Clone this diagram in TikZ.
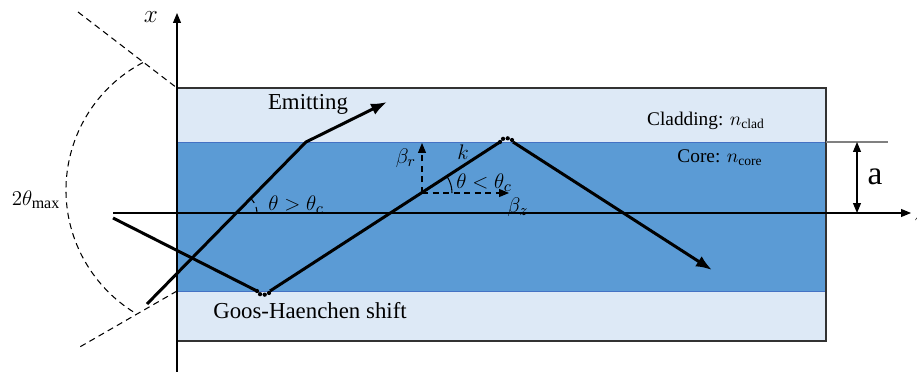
\documentclass[tikz,border=0pt]{standalone}
\usepackage{fontspec}
\setmainfont{Liberation Serif}
\usetikzlibrary{arrows.meta,calc,positioning}
\definecolor{CoreBlue}{RGB}{91,155,213}
\definecolor{CladBlue}{RGB}{221,233,246}
\definecolor{CoreEdge}{RGB}{68,114,196}
\definecolor{EdgeGray}{RGB}{50,50,50}
\tikzset{
  ray/.style={line width=1.7pt},
  raytip/.style={-{Latex[length=3.2mm,width=2.4mm]}},
  axis/.style={line width=0.6pt,-{Triangle[length=2mm,width=1.6mm]}},
  guide/.style={dashed,dash pattern=on 3.5pt off 2.5pt,line width=0.6pt},
  lbl/.style={font=\fontsize{13}{15}\selectfont,inner sep=1pt}
}
\newcommand{\ghshift}[3]{%
  \draw[line width=2.4pt,line cap=round,dash pattern=on 0pt off 2.7pt] (#1) to[bend #3=90] (#2);}

\begin{document}
\begin{tikzpicture}[x=0.02cm,y=-0.02cm]
  \useasboundingbox (0,0) rectangle (917,372);
  % fibre: cladding and core
  \fill[CladBlue] (177,88) rectangle (826,341);
  \fill[CoreBlue,draw=CoreEdge,line width=0.5pt] (177,142) rectangle (826,291);
  \draw[EdgeGray,line width=1.2pt] (177,88) rectangle (826,341);
  \draw[gray,line width=0.6pt] (826,142)--(888,142);
  % axes
  \coordinate (xbot) at (177,372); \coordinate (xtop) at (177,13);
  \coordinate (zleft) at (113,213); \coordinate (zright) at (911,213);
  \draw[axis] (xbot)--(xtop);
  \draw[axis] (zleft)--(zright);
  \node[lbl,font=\fontsize{15}{17}\selectfont] (xlab) at (151,17) {$x$};
  \node[lbl,anchor=west,font=\fontsize{15}{17}\selectfont] (zlab) at (912,215) {$z$};
  % core radius a
  \coordinate (atop) at (857,142); \coordinate (abot) at (857,213);
  \draw[line width=0.6pt,{Triangle[length=2mm,width=1.6mm]}-{Triangle[length=2mm,width=1.6mm]}] (atop)--(abot);
  \node[lbl,font=\fontsize{19}{21}\selectfont] (alab) at (875,177) {a};
  % acceptance cone
  \coordinate (cone1) at (78,12); \coordinate (cone2) at (177,88);
  \coordinate (cone3) at (177,291); \coordinate (cone4) at (78,348);
  \coordinate (conec) at (210,190);
  \draw[guide] (cone1)--(cone2);
  \draw[guide] (cone3)--(cone4);
  \draw[guide] ($(conec)+(242.2:144)$) arc[start angle=242.2,end angle=121.4,radius=144];
  \node[lbl] (thmax) at (36,200) {$2\theta_{\max}$};
  % emitting ray
  \coordinate (e0) at (147,304); \coordinate (e1) at (306,142); \coordinate (e2) at (387,102);
  \coordinate (ecross) at (237,213);
  \draw[ray,raytip,line join=round] (e0)--(e1)--(e2);
  \draw[guide] ($(ecross)+(20,0)$) arc[start angle=0,end angle=-46,radius=20];
  \node[lbl] (emit) at (308,104) {Emitting};
  \node[lbl] (thgt) at (296,205) {$\theta>\theta_c$};
  % guided ray
  \coordinate (r0) at (113,218); \coordinate (g1) at (257,291); \coordinate (g2) at (270,291);
  \coordinate (t1) at (500,142); \coordinate (t2) at (513,142); \coordinate (r5) at (712,270);
  \draw[ray,line join=round] (r0)--(g1);
  \draw[ray] (g2)--(t1);
  \draw[ray,raytip] (t2)--(r5);
  \ghshift{g1}{g2}{right}
  \ghshift{t1}{t2}{left}
  \node[lbl] (gh) at (310,311) {Goos-Haenchen shift};
  % wave vector components
  \coordinate (kc) at (422,193); \coordinate (brtip) at (422,143); \coordinate (bztip) at (509,193);
  \draw[guide,-{Triangle[length=2mm,width=1.6mm]}] (kc)--(brtip);
  \draw[guide,-{Triangle[length=2mm,width=1.6mm]}] (kc)--(bztip);
  \draw[line width=0.6pt] ($(kc)+(30,0)$) arc[start angle=0,end angle=-33,radius=30];
  \node[lbl] (br) at (406,158) {$\beta_r$};
  \node[lbl] (klab) at (463,152) {$k$};
  \node[lbl] (thlt) at (484,183) {$\theta<\theta_c$};
  \node[lbl] (bz) at (518,207) {$\beta_z$};
  % layer labels
  \node[lbl,font=\fontsize{11}{13}\selectfont] (clad) at (706,121) {Cladding: $n_{\mathrm{clad}}$};
  \node[lbl,font=\fontsize{11}{13}\selectfont] (core) at (720,158) {Core: $n_{\mathrm{core}}$};
\end{tikzpicture}
\end{document}
